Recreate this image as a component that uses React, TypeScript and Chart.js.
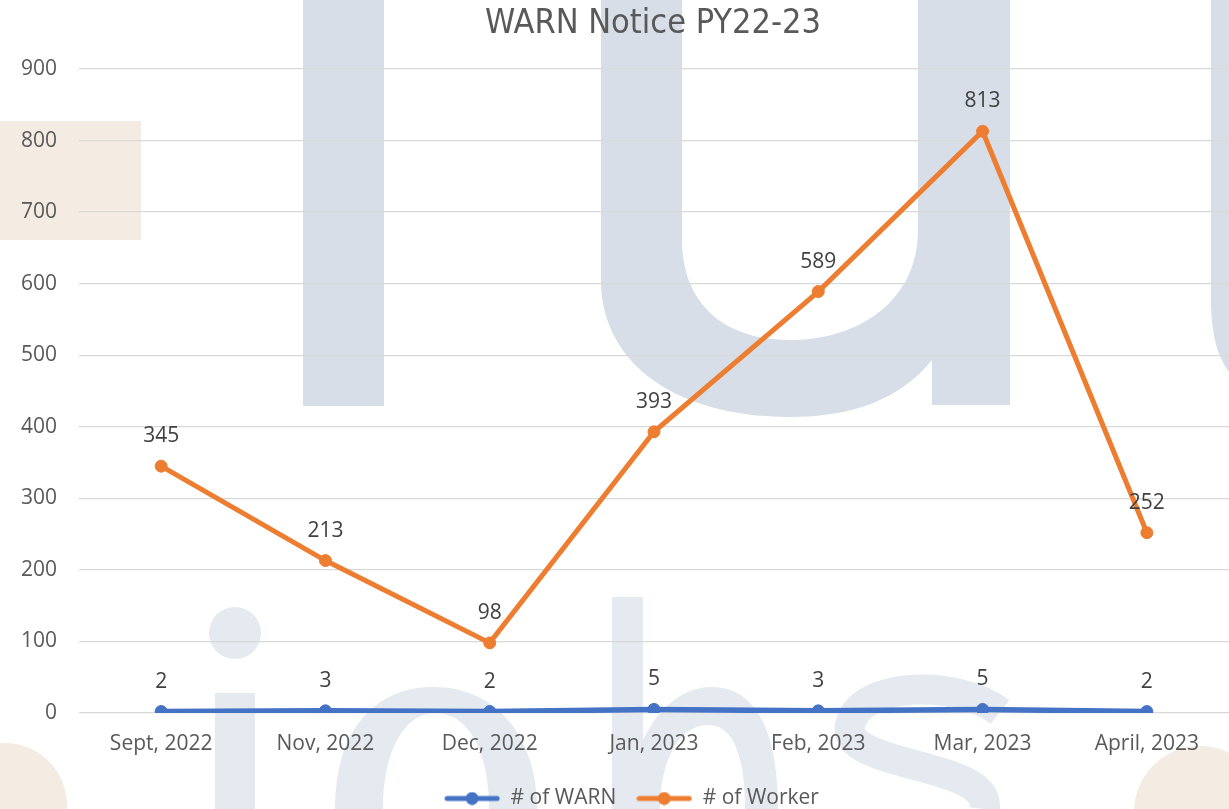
import React, { useEffect, useRef } from "react";
import { Chart, registerables } from "chart.js";

Chart.register(...registerables);

const categories = ["Sept, 2022", "Nov, 2022", "Dec, 2022", "Jan, 2023", "Feb, 2023", "Mar, 2023", "April, 2023"];
const warnCounts = [2, 3, 2, 5, 3, 5, 2];
const workerCounts = [345, 213, 98, 393, 589, 813, 252];
const seriesNames = ["# of WARN", "# of Worker"];
const seriesColors = ["#4472C4", "#ED7D31"];
const chartTitle = "WARN Notice PY22-23";
const yMax = 900;
const yStep = 100;

const FONT = '"Open Sans", "Noto Sans", sans-serif';
const TITLE_FONT = '34px "DejaVu Sans Condensed", "Liberation Sans Narrow", sans-serif';

function makeLegendIcon(color: string): HTMLCanvasElement {
  const c = document.createElement("canvas");
  c.width = 56;
  c.height = 14;
  const g = c.getContext("2d")!;
  g.strokeStyle = color;
  g.lineWidth = 5;
  g.lineCap = "round";
  g.beginPath();
  g.moveTo(3, 7);
  g.lineTo(53, 7);
  g.stroke();
  g.fillStyle = color;
  g.beginPath();
  g.arc(28, 7, 6.5, 0, Math.PI * 2);
  g.fill();
  return c;
}

const pointLabelPlugin = {
  id: "pointLabels",
  afterDatasetsDraw(chart: any) {
    const ctx = chart.ctx;
    ctx.save();
    ctx.font = `21px ${FONT}`;
    ctx.fillStyle = "#404040";
    ctx.textAlign = "center";
    ctx.textBaseline = "middle";
    chart.data.datasets.forEach((ds: any, i: number) => {
      const meta = chart.getDatasetMeta(i);
      meta.data.forEach((pt: any, j: number) => {
        ctx.fillText(String(ds.data[j]), pt.x, pt.y - 30);
      });
    });
    ctx.restore();
  },
};

const titlePlugin = {
  id: "offsetTitle",
  afterLayout(chart: any) {
    if (chart.legend) {
      chart.legend.left += 17;
      chart.legend.right += 17;
    }
  },
  afterDraw(chart: any) {
    const ctx = chart.ctx;
    ctx.save();
    ctx.font = TITLE_FONT;
    ctx.fillStyle = "#595959";
    ctx.textAlign = "center";
    ctx.textBaseline = "middle";
    ctx.fillText(chartTitle, 653, 24);
    ctx.restore();
  },
};

function Watermark() {
  const top = "#D7DEE7";
  const low = "#E5E9F0";
  const beige = "#F4ECE2";
  return (
    <svg width={1229} height={809} style={{ position: "absolute", left: 0, top: 0 }}>
      <rect x={0} y={121} width={141} height={119} fill={beige} />
      <circle cx={5} cy={805} r={62} fill={beige} />
      <circle cx={1200} cy={812} r={66} fill={beige} />
      <rect x={303} y={0} width={81} height={406} fill={top} />
      <path
        d="M601,0 L682,0 L682,240 C682,300 720,340 790,340 C860,340 918,300 918,230 L918,0 L1010,0 L1010,405 L932,405 L932,360 C900,400 850,418 785,417 C670,415 601,360 601,280 Z"
        fill={top}
      />
      <path d="M1211,0 L1229,0 L1229,372 C1220,360 1211,340 1211,300 Z" fill={top} />
      <circle cx={235} cy={633} r={26} fill={low} />
      <rect x={215} y={693} width={40} height={120} fill={low} />
      <path
        fillRule="evenodd"
        d="M335,809 C335,730 375,687 433,687 C495,687 537,735 537,809 Z M383,809 C383,750 405,713 435,713 C468,713 489,750 489,809 Z"
        fill={low}
      />
      <rect x={612} y={597} width={31} height={215} fill={low} />
      <path
        fillRule="evenodd"
        d="M643,740 C660,705 685,687 712,687 C760,687 778,740 778,809 L643,809 Z M660,809 C660,760 680,725 708,725 C735,725 745,760 745,809 Z"
        fill={low}
      />
      <path
        d="M1000,712 C960,680 860,680 850,725 C842,770 990,760 985,809"
        stroke={low}
        strokeWidth={30}
        fill="none"
      />
    </svg>
  );
}

export default function App() {
  const canvasRef = useRef<HTMLCanvasElement | null>(null);

  useEffect(() => {
    const canvas = canvasRef.current;
    if (!canvas) return;
    const icons = seriesColors.map((c) => makeLegendIcon(c));
    const chart = new Chart(canvas, {
      type: "line",
      data: {
        labels: categories,
        datasets: [
          {
            label: seriesNames[0],
            data: warnCounts,
            borderColor: seriesColors[0],
            backgroundColor: seriesColors[0],
            borderWidth: 5.5,
            pointRadius: 6,
            pointBorderWidth: 1,
            pointBackgroundColor: seriesColors[0],
            pointBorderColor: seriesColors[0],
            tension: 0,
          },
          {
            label: seriesNames[1],
            data: workerCounts,
            borderColor: seriesColors[1],
            backgroundColor: seriesColors[1],
            borderWidth: 5,
            pointRadius: 6,
            pointBorderWidth: 1,
            pointBackgroundColor: seriesColors[1],
            pointBorderColor: seriesColors[1],
            tension: 0,
          },
        ],
      },
      options: {
        responsive: false,
        maintainAspectRatio: false,
        devicePixelRatio: 1,
        animation: false,
        layout: { autoPadding: false, padding: { top: 69, left: 0, right: 0, bottom: 0 } },
        plugins: {
          title: { display: false },
          legend: {
            display: true,
            position: "bottom",
            labels: {
              usePointStyle: true,
              pointStyleWidth: 56,
              padding: 20,
              color: "#595959",
              font: { family: FONT, size: 21 },
              generateLabels: (ch: any) =>
                ch.data.datasets.map((ds: any, i: number) => ({
                  text: ds.label,
                  pointStyle: icons[i],
                  fillStyle: seriesColors[i],
                  strokeStyle: seriesColors[i],
                  lineWidth: 0,
                  hidden: false,
                  datasetIndex: i,
                  fontColor: "#595959",
                })),
            },
          },
          tooltip: { enabled: false },
        },
        scales: {
          x: {
            offset: true,
            grid: { display: false, drawTicks: false },
            border: { display: false },
            ticks: { color: "#595959", font: { family: FONT, size: 21 }, padding: 18, maxRotation: 0, autoSkip: false },
            afterFit: (scale: any) => {
              scale.height = 55;
              scale.paddingLeft = 0;
              scale.paddingRight = 0;
              if (scale._margins) {
                scale._margins.left = 0;
                scale._margins.right = 0;
              }
            },
          },
          y: {
            min: 0,
            max: yMax,
            grid: { color: "#D9D9D9", lineWidth: 1.3, drawTicks: false },
            border: { display: false },
            ticks: { stepSize: yStep, color: "#595959", font: { family: FONT, size: 21 }, padding: 22 },
            afterFit: (scale: any) => {
              scale.width = 79;
              scale.paddingTop = 0;
              scale.paddingBottom = 0;
            },
          },
        },
      },
      plugins: [pointLabelPlugin, titlePlugin],
    });
    return () => chart.destroy();
  }, []);

  return (
    <div
      style={{
        position: "fixed",
        left: 0,
        top: 0,
        width: 1229,
        height: 809,
        overflow: "hidden",
        background: "#ffffff",
      }}
    >
      <Watermark />
      <canvas
        ref={canvasRef}
        width={1229}
        height={819}
        style={{ position: "absolute", left: 0, top: 0, display: "block" }}
      />
    </div>
  );
}
